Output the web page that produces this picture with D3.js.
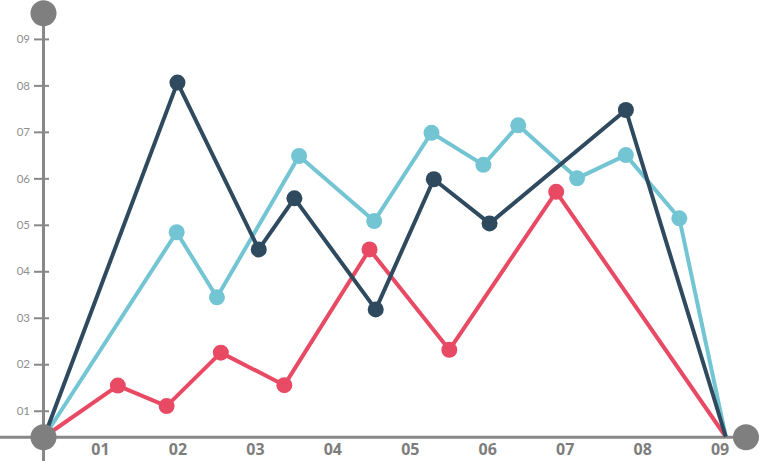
<!DOCTYPE html>
<html>
<head>
<meta charset="utf-8">
<script src="https://cdn.jsdelivr.net/npm/d3@7/dist/d3.min.js"></script>
<style>
  html, body { margin: 0; padding: 0; background: #fff; }
  svg { display: block; }
</style>
</head>
<body>
<svg id="chart" width="760" height="461"></svg>
<script>
// ---- data (x in label units 01..09, y in tick units 01..09) ----
const xTickLabels = ["01","02","03","04","05","06","07","08","09"];
const yTickLabels = ["01","02","03","04","05","06","07","08","09"];

const navyX = [0.28, 2.00, 3.05, 3.51, 4.56, 5.31, 6.03, 7.79, 9.08];
const navyY = [0.44, 8.06, 4.47, 5.57, 3.18, 5.98, 5.03, 7.47, 0.44];

const blueX = [0.28, 1.99, 2.51, 3.57, 4.54, 5.28, 5.95, 6.40, 7.16, 7.79, 8.48, 9.08];
const blueY = [0.44, 4.84, 3.44, 6.48, 5.08, 6.98, 6.29, 7.14, 6.00, 6.50, 5.14, 0.44];

const redX = [0.28, 1.23, 1.86, 2.56, 3.38, 4.48, 5.51, 6.89, 9.08];
const redY = [0.44, 1.54, 1.10, 2.25, 1.55, 4.47, 2.31, 5.71, 0.44];

const series = [
  { name: "red",  xs: redX,  ys: redY,  color: "#e84a64" },
  { name: "blue", xs: blueX, ys: blueY, color: "#74c5d4" },
  { name: "navy", xs: navyX, ys: navyY, color: "#2f4a5f" }
];

// ---- layout ----
const svg = d3.select("#chart");
const axisColor = "#888888";
const originX = 43.5;

const x = d3.scaleLinear().domain([0, 9]).range([22.55, 719.6]);
const y = d3.scaleLinear().domain([0, 9]).range([457.2, 38.9]);

const xAxisY = y(0.43);
const topY = 13.3;
const endX = 746;

// axis lines
svg.append("line")
  .attr("x1", 0).attr("x2", endX)
  .attr("y1", xAxisY).attr("y2", xAxisY)
  .attr("stroke", axisColor).attr("stroke-width", 3);
svg.append("line")
  .attr("x1", originX).attr("x2", originX)
  .attr("y1", topY).attr("y2", 461)
  .attr("stroke", axisColor).attr("stroke-width", 3);

// y axis ticks & labels
const yAxis = d3.axisLeft(y)
  .tickValues(d3.range(1, 10))
  .tickFormat((d, i) => yTickLabels[i])
  .tickSize(0)
  .tickPadding(13.5);
const gy = svg.append("g").attr("transform", `translate(${originX},0)`).call(yAxis);
gy.select(".domain").remove();
gy.selectAll(".tick line")
  .attr("x1", -9.5).attr("x2", 5.5)
  .attr("stroke", axisColor).attr("stroke-width", 2);
gy.selectAll(".tick text")
  .attr("fill", "#8f8f8f")
  .style("font-family", "Lato, 'Open Sans', sans-serif")
  .style("font-size", "11.5px")
  .style("font-weight", 400);

// x axis labels
const xAxis = d3.axisBottom(x)
  .tickValues(d3.range(1, 10))
  .tickFormat((d, i) => xTickLabels[i])
  .tickSize(0)
  .tickPadding(6);
const gx = svg.append("g").attr("transform", `translate(0,${xAxisY})`).call(xAxis);
gx.select(".domain").remove();
gx.selectAll(".tick text")
  .attr("fill", "#7d7d7d")
  .style("font-family", "'Open Sans', Lato, sans-serif")
  .style("font-size", "16px")
  .style("font-weight", 700);

// series lines and points
const line = d3.line().x(d => x(d[0])).y(d => y(d[1]));
series.forEach(s => {
  const pts = s.xs.map((v, i) => [v, s.ys[i]]);
  svg.append("path")
    .datum(pts)
    .attr("d", line)
    .attr("fill", "none")
    .attr("stroke", s.color)
    .attr("stroke-width", 4)
    .attr("stroke-linejoin", "round");
  svg.append("g").selectAll("circle")
    .data(pts.slice(1, -1))
    .join("circle")
    .attr("cx", d => x(d[0]))
    .attr("cy", d => y(d[1]))
    .attr("r", 8)
    .attr("fill", s.color);
});

// decorative end circles
[[originX, topY], [originX, xAxisY], [endX, xAxisY]].forEach(([cx, cy]) => {
  svg.append("circle").attr("cx", cx).attr("cy", cy).attr("r", 13).attr("fill", "#7f7f7f");
});
</script>
</body>
</html>
